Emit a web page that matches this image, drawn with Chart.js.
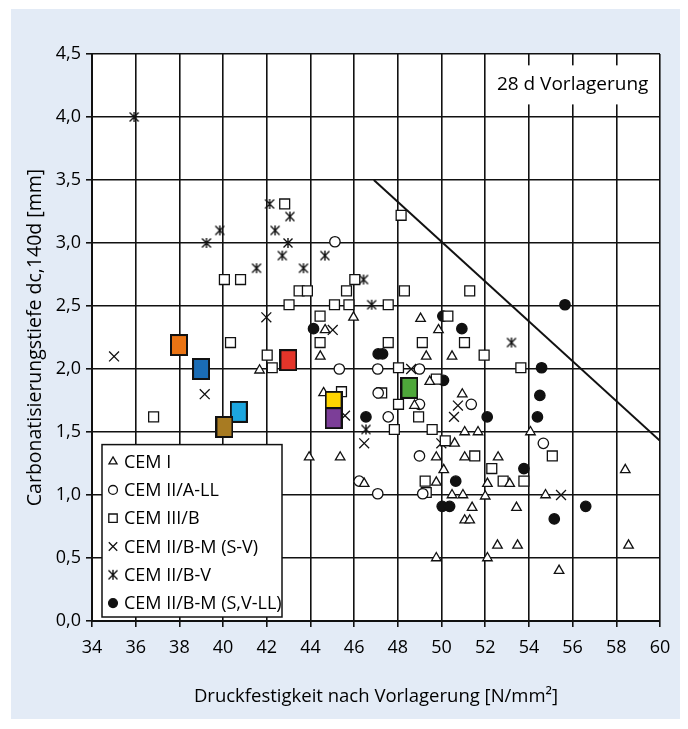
<!DOCTYPE html>
<html>
<head>
<meta charset="utf-8">
<script src="https://cdn.jsdelivr.net/npm/chart.js@4.4.1/dist/chart.umd.min.js"></script>
<style>
  html, body { margin: 0; padding: 0; background: #fff; }
  canvas { display: block; }
</style>
</head>
<body>
<canvas id="carbChart" width="688" height="729"></canvas>
<script>
// Druckfestigkeit [N/mm²] vs. Carbonatisierungstiefe [mm], 28 d Vorlagerung
const yTickLabels = ['0,0', '0,5', '1,0', '1,5', '2,0', '2,5', '3,0', '3,5', '4,0', '4,5'];

const cemI = [
  [45.97, 2.41], [44.67, 2.31], [41.67, 1.99], [44.45, 2.10], [43.94, 1.30], [45.36, 1.30],
  [44.6, 1.81], [49.04, 2.40], [49.86, 2.31], [49.3, 2.10], [50.48, 2.10], [49.46, 1.90],
  [48.76, 1.71], [50.95, 1.80], [51.06, 1.50], [51.67, 1.50], [50.6, 1.41], [49.76, 1.30],
  [51.06, 1.30], [52.59, 1.30], [50.1, 1.20], [49.76, 1.10], [46.46, 1.09], [50.48, 1.0],
  [50.98, 1.0], [52.1, 1.09], [52.0, 0.99], [51.4, 0.90], [51.06, 0.80], [51.29, 0.80],
  [52.56, 0.60], [49.76, 0.50], [52.1, 0.50], [54.07, 1.50], [58.41, 1.20], [53.12, 1.09],
  [54.76, 1.0], [53.43, 0.90], [53.48, 0.60], [58.56, 0.60], [55.38, 0.40]
];
const cemIIALL = [
  [45.12, 3.01], [45.32, 2.0], [47.08, 2.0], [48.99, 2.0], [47.1, 1.81], [48.99, 1.72],
  [51.36, 1.72], [47.56, 1.62], [48.99, 1.31], [46.23, 1.11], [47.08, 1.01], [49.14, 1.01],
  [54.66, 1.41]
];
const cemIIIB = [
  [42.82, 3.31], [48.15, 3.22], [40.06, 2.71], [40.80, 2.71], [46.03, 2.71], [43.48, 2.62],
  [43.86, 2.62], [45.65, 2.62], [48.3, 2.62], [51.29, 2.62], [43.02, 2.51], [45.1, 2.51],
  [45.76, 2.51], [47.56, 2.51], [44.44, 2.42], [50.29, 2.42], [44.44, 2.21], [40.34, 2.21],
  [47.56, 2.21], [49.12, 2.21], [51.05, 2.21], [42.02, 2.11], [42.25, 2.01], [48.03, 2.01],
  [51.95, 2.11], [53.63, 2.01], [49.76, 1.92], [45.42, 1.82], [47.26, 1.81], [48.03, 1.72],
  [48.95, 1.62], [36.82, 1.62], [47.84, 1.52], [49.57, 1.52], [50.17, 1.43], [51.52, 1.31],
  [49.25, 1.11], [49.3, 1.02], [52.3, 1.21], [55.07, 1.31], [52.82, 1.11], [53.77, 1.11]
];
const cemIIBMSV = [
  [35.01, 2.10], [39.16, 1.80], [41.98, 2.41], [45.02, 2.31], [48.03, 2.01], [48.61, 2.0],
  [50.57, 1.62], [50.75, 1.71], [46.46, 1.41], [49.99, 1.41], [52.3, 1.21], [55.47, 1.0],
  [45.58, 1.63]
];
const cemIIBV = [
  [35.93, 4.0], [42.13, 3.31], [43.06, 3.21], [39.85, 3.10], [42.38, 3.10], [39.24, 3.00],
  [42.97, 3.00], [42.71, 2.90], [44.66, 2.90], [41.53, 2.80], [43.68, 2.80], [46.8, 2.51],
  [46.54, 1.52], [46.43, 2.71], [53.2, 2.21]
];
const cemIIBMSVLL = [
  [44.14, 2.32], [47.1, 2.12], [47.3, 2.12], [50.06, 2.42], [50.93, 2.32], [50.09, 1.91],
  [46.54, 1.62], [52.09, 1.62], [55.65, 2.51], [54.58, 2.01], [54.5, 1.79], [54.39, 1.62],
  [53.77, 1.21], [50.65, 1.11], [50.03, 0.91], [50.37, 0.91], [56.6, 0.91], [55.16, 0.81]
];
// farbig markierte Einzelwerte
const highlightPoints = [
  [37.98, 2.19], [38.99, 2.0], [40.72, 1.66], [40.06, 1.54], [42.99, 2.07],
  [45.06, 1.74], [45.06, 1.61], [48.53, 1.85]
];
const highlightColors = ['#ea7414', '#1a6cb5', '#1ca6df', '#a87b22', '#e4352a', '#ffd500', '#7c3e98', '#4ea83a'];
const limitLine = [[46.9, 3.5], [60, 1.43]];

const pts = arr => arr.map(p => ({ x: p[0], y: p[1] }));

function makeStar() {
  const c = document.createElement('canvas');
  c.width = c.height = 12;
  const g = c.getContext('2d');
  g.strokeStyle = '#111';
  g.lineWidth = 1.4;
  g.beginPath();
  g.moveTo(1.5, 1.5); g.lineTo(10.5, 10.5);
  g.moveTo(10.5, 1.5); g.lineTo(1.5, 10.5);
  g.moveTo(6, 1); g.lineTo(6, 11);
  g.stroke();
  return c;
}
function makeBlock(color) {
  const c = document.createElement('canvas');
  c.width = 18; c.height = 22;
  const g = c.getContext('2d');
  g.fillStyle = color;
  g.fillRect(1, 1, 16, 20);
  g.strokeStyle = '#111';
  g.lineWidth = 2;
  g.strokeRect(1, 1, 16, 20);
  return c;
}
const starImg = makeStar();

const panelBg = {
  id: 'panelBg',
  beforeDraw(chart) {
    const { ctx, chartArea: a } = chart;
    ctx.save();
    ctx.fillStyle = '#fff';
    ctx.fillRect(0, 0, chart.width, chart.height);
    ctx.fillStyle = '#e3ebf6';
    ctx.fillRect(11, 9, chart.width - 19, chart.height - 19);
    ctx.fillStyle = '#fff';
    ctx.fillRect(a.left, a.top, a.right - a.left, a.bottom - a.top);
    ctx.restore();
  }
};

const noteBox = {
  id: 'noteBox',
  beforeDatasetsDraw(chart) {
    const { ctx, chartArea: a, scales: { x, y } } = chart;
    const left = x.getPixelForValue(52) + 2;
    const top = y.getPixelForValue(4.41);
    const bottom = y.getPixelForValue(4.1);
    ctx.save();
    ctx.fillStyle = '#fff';
    ctx.fillRect(left, top, a.right - 1 - left, bottom - top);
    ctx.fillStyle = '#000';
    ctx.font = '19px "Open Sans"';
    ctx.textAlign = 'center';
    ctx.textBaseline = 'middle';
    ctx.fillText('28 d Vorlagerung', x.getPixelForValue(56), (top + bottom) / 2);
    ctx.restore();
  }
};

const boxLegend = {
  id: 'boxLegend',
  afterDatasetsDraw(chart) {
    const { ctx, chartArea: a, scales: { y } } = chart;
    const left = a.left + 10, top = y.getPixelForValue(1.4);
    const w = 180, h = a.bottom - 4 - top;
    ctx.save();
    ctx.fillStyle = '#fff';
    ctx.fillRect(left, top, w, h);
    ctx.strokeStyle = '#111';
    ctx.lineWidth = 1.5;
    ctx.strokeRect(left, top, w, h);
    ctx.font = '18px "Open Sans"';
    ctx.textBaseline = 'middle';
    for (let i = 0; i < 6; i++) {
      const ds = chart.data.datasets[i];
      const cy = top + 17 + i * 28.3;
      ctx.fillStyle = ds.pointBackgroundColor;
      ctx.strokeStyle = '#111';
      ctx.lineWidth = ds.pointBorderWidth;
      Chart.helpers.drawPoint(ctx, {
        pointStyle: ds.pointStyle, radius: ds.pointRadius * 0.85, rotation: 0, borderWidth: ds.pointBorderWidth
      }, left + 11, cy);
      ctx.fillStyle = '#000';
      ctx.fillText(ds.label, left + 22, cy + 1);
    }
    ctx.restore();
  }
};

function markerSet(label, data, style, radius, fill) {
  return {
    type: 'scatter', label, data: pts(data), pointStyle: style, pointRadius: radius,
    pointBackgroundColor: fill, pointBorderColor: '#111', pointBorderWidth: 1.3, order: 2
  };
}

new Chart(document.getElementById('carbChart'), {
  type: 'scatter',
  data: {
    datasets: [
      markerSet('CEM I', cemI, 'triangle', 5.5, '#fff'),
      markerSet('CEM II/A-LL', cemIIALL, 'circle', 5.2, '#fff'),
      markerSet('CEM III/B', cemIIIB, 'rect', 7, '#fff'),
      markerSet('CEM II/B-M (S-V)', cemIIBMSV, 'crossRot', 7, '#fff'),
      markerSet('CEM II/B-V', cemIIBV, starImg, 6, '#fff'),
      markerSet('CEM II/B-M (S,V-LL)', cemIIBMSVLL, 'circle', 5.2, '#111'),
      {
        type: 'scatter', label: 'markiert', data: pts(highlightPoints),
        pointStyle: highlightColors.map(makeBlock), pointRadius: 10, order: 1
      },
      {
        type: 'line', label: 'Grenze', data: pts(limitLine), borderColor: '#111',
        borderWidth: 2, pointRadius: 0, fill: false, order: 3
      }
    ]
  },
  options: {
    responsive: false,
    devicePixelRatio: 1,
    animation: false,
    layout: { padding: { left: 0, top: 54, right: 28, bottom: 0 } },
    plugins: { legend: { display: false }, tooltip: { enabled: false } },
    scales: {
      x: {
        type: 'linear', min: 34, max: 60,
        afterFit: s => { s.height = 108; },
        ticks: { stepSize: 2, color: '#000', font: { family: 'Open Sans', size: 18 }, padding: 10 },
        grid: { color: '#111', lineWidth: 1.6, tickLength: 6, tickColor: '#111' },
        border: { display: true, color: '#111', width: 2 },
        title: {
          display: true, text: 'Druckfestigkeit nach Vorlagerung [N/mm²]', color: '#000',
          font: { family: 'Open Sans', size: 18.5 }, padding: { top: 0, bottom: 21 }
        }
      },
      y: {
        type: 'linear', min: 0, max: 4.5,
        afterFit: s => { s.width = 92; },
        ticks: {
          stepSize: 0.5, color: '#000', font: { family: 'Open Sans', size: 18 }, padding: 5,
          callback: (v, i) => yTickLabels[i]
        },
        grid: { color: '#111', lineWidth: 1.6, tickLength: 6, tickColor: '#111' },
        border: { display: true, color: '#111', width: 2 },
        title: {
          display: true, text: 'Carbonatisierungstiefe dc,140d [mm]', color: '#000',
          font: { family: 'Open Sans', size: 19.5 }, padding: { top: 24, bottom: 0 }
        }
      }
    }
  },
  plugins: [panelBg, noteBox, boxLegend]
});
</script>
</body>
</html>
